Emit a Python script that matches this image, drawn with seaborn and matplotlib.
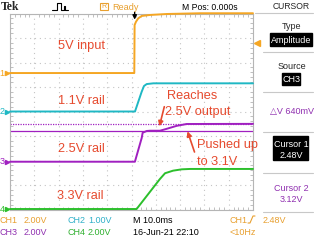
import matplotlib
matplotlib.use("Agg")
import matplotlib.pyplot as plt
import seaborn as sns
from matplotlib.lines import Line2D
from matplotlib.patches import Rectangle
from matplotlib.ticker import MultipleLocator

# scope capture: time in ms, amplitude in volts
t_ch1 = [-50, 1.15, 1.28, 1.85, 2.8, 4.2, 7.6, 14.5, 28.2, 50]
v_ch1 = [0.0, 0.0, 3.92, 4.19, 4.47, 4.66, 4.74, 4.82, 4.88, 4.88]
t_ch2 = [-50, 1.44, 2.8, 4.2, 5.14, 6.26, 8.97, 50]
v_ch2 = [0.0, 0.0, 0.40, 0.81, 1.04, 1.12, 1.15, 1.15]
t_ch3 = [-50, 1.4, 4.2, 4.6, 6.3, 7.6, 11.7, 14.2, 18.6, 22.7, 50]
v_ch3 = [0.0, 0.0, 1.94, 2.37, 2.51, 2.53, 2.53, 2.67, 2.93, 3.08, 3.09]
t_ch4 = [-50, 2.1, 11.7, 13.8, 17.1, 20.7, 24.1, 50]
v_ch4 = [0.0, 0.0, 2.45, 2.92, 3.13, 3.24, 3.27, 3.27]

volts_per_div = [2.0, 1.0, 2.0, 2.0]
ground_div = [1.57, 0.0, -2.05, -3.98]
trace_colors = ["#f5a623", "#1fb8c4", "#a020c0", "#2cbf2c"]
label_colors = ["#e8a030", "#30b0c8", "#9030b0", "#30b030"]
cursor_volts = [2.48, 3.12]
trigger_volts = 2.48

RED = "#e64a2e"
W, H = 320, 240


def fx(x):
    return x / W


def fy(y):
    return 1 - y / H


sns.set_style("white")
plt.rcParams["font.family"] = ["Liberation Sans", "DejaVu Sans"]

fig = plt.figure(figsize=(3.2, 2.4), dpi=100)
ax = fig.add_axes([fx(10), fy(209.5), 243 / W, 196 / H])
ax.set_xlim(-50, 50)
ax.set_ylim(-4, 4)
ax.set_xticks(range(-50, 51, 10))
ax.set_yticks(range(-4, 5))
ax.set_xticklabels([])
ax.set_yticklabels([])
ax.xaxis.set_minor_locator(MultipleLocator(2))
ax.yaxis.set_minor_locator(MultipleLocator(0.2))
ax.tick_params(which="major", length=0)
ax.tick_params(which="minor", direction="in", length=2, color="#b5b5b5",
               top=True, bottom=True, left=True, right=True)
ax.grid(True, which="major", color="#c4c4c4", lw=0.8, ls=(0, (1, 3.4)))
for s in ax.spines.values():
    s.set_color("#b5b5b5")
    s.set_linewidth(0.8)

# cursors on CH3
for cv, ls in zip(cursor_volts, ["-", (0, (1, 1))]):
    ax.axhline(ground_div[2] + cv / volts_per_div[2], color=trace_colors[2], lw=0.9, ls=ls, zorder=2)

# traces
traces = [(t_ch1, v_ch1), (t_ch2, v_ch2), (t_ch3, v_ch3), (t_ch4, v_ch4)]
for (t, v), vdiv, g, c in zip(traces, volts_per_div, ground_div, trace_colors):
    y = [g + val / vdiv for val in v]
    sns.lineplot(x=t, y=y, color=c, lw=1.4, estimator=None, sort=False,
                 ax=ax, clip_on=False, zorder=3)

# channel ground markers
trans = ax.get_yaxis_transform()
for i, (g, c) in enumerate(zip(ground_div, trace_colors)):
    ax.text(-0.022, g, str(i + 1), color=c, fontsize=6.5, ha="right", va="center", transform=trans)
    ax.plot([-0.011], [g], marker=">", ms=3, color=c, transform=trans, clip_on=False)

# trigger level and position
ax.plot([1.018], [ground_div[0] + trigger_volts / volts_per_div[0]], marker="<", ms=4,
        color=trace_colors[0], transform=trans, clip_on=False)
ax.annotate("", xy=(1.3, 3.75), xytext=(1.3, 4.05),
            arrowprops=dict(arrowstyle="-|>", color="k", lw=1, mutation_scale=6,
                            shrinkA=0, shrinkB=0), annotation_clip=False)

# annotations
for txt, x, y in [("5V input", 58, 49.3), ("1.1V rail", 58.3, 104.3), ("2.5V rail", 58.3, 151.7),
                  ("3.3V rail", 57.3, 198.7), ("Reaches", 166.7, 99), ("2.5V output", 165, 115),
                  ("Pushed up", 196.7, 148.3), ("to 3.1V", 196.7, 165)]:
    fig.text(fx(x), fy(y), txt, color=RED, fontsize=9.2, va="baseline")
for tail, head in [((164.3, 106.7), (159.4, 126.3)), ((194.5, 152), (187.5, 131.3))]:
    ax.annotate("", xy=(fx(head[0]), fy(head[1])), xytext=(fx(tail[0]), fy(tail[1])),
                xycoords="figure fraction", textcoords="figure fraction",
                arrowprops=dict(arrowstyle="-|>", color=RED, lw=1.2, mutation_scale=7,
                                shrinkA=0, shrinkB=0))

# header
fig.text(fx(1), fy(10.5), "Tek", family=["Liberation Serif", "DejaVu Serif"], weight="bold",
         fontsize=8.5, va="baseline")
fig.add_artist(Line2D([fx(p) for p in [52, 57, 57, 61, 61, 64, 64, 65, 65, 68]],
                      [fy(p) for p in [10, 10, 3, 3, 10, 10, 6, 6, 10, 10]],
                      color="k", lw=0.8))
fig.add_artist(Rectangle((fx(100), fy(10)), 8 / W, 7.5 / H, fill=False, ec=label_colors[0], lw=0.8))
fig.text(fx(104), fy(6.3), "R", color=label_colors[0], fontsize=5, ha="center", va="center")
fig.text(fx(112), fy(10), "Ready", color=label_colors[0], fontsize=6.6, va="baseline")
fig.text(fx(210), fy(9.5), "M Pos: 0.000s", color="k", fontsize=6.2, ha="center", va="baseline")

# right-hand menu
cx = fx(291.5)
fig.text(cx, fy(9.3), "CURSOR", fontsize=6.2, ha="center", va="baseline")
for y in [12.5, 52.3, 91.5, 131.7, 173.3, 211.7]:
    x0 = 255 if y == 12.5 else 263
    fig.add_artist(Line2D([fx(x0), fx(313)], [fy(y), fy(y)], color="#c8c8c8", lw=0.8))
fig.text(cx, fy(29.3), "Type", fontsize=6.5, ha="center", va="baseline")
fig.add_artist(Rectangle((fx(270), fy(45.5)), 42 / W, 12.5 / H, color="k"))
fig.text(cx, fy(42.8), "Amplitude", color="w", fontsize=6.5, ha="center", va="baseline")
fig.text(cx, fy(69.3), "Source", fontsize=6.5, ha="center", va="baseline")
fig.add_artist(Rectangle((fx(281.7), fy(85)), 18.5 / W, 11.7 / H, color="k"))
fig.text(cx, fy(82.5), "CH3", color="w", fontsize=6.5, ha="center", va="baseline")
fig.text(cx, fy(114.3), "\u25b3V 640mV", color=label_colors[2], fontsize=6.5, ha="center",
         va="baseline", family=["Liberation Sans", "DejaVu Sans"])
fig.add_artist(Rectangle((fx(272.7), fy(160)), 35.6 / W, 24 / H, color="k"))
fig.text(cx, fy(147.3), "Cursor 1", color="w", fontsize=6.5, ha="center", va="baseline")
fig.text(cx, fy(158.3), "2.48V", color="w", fontsize=6.5, ha="center", va="baseline")
fig.text(cx, fy(190.7), "Cursor 2", color=label_colors[2], fontsize=6.5, ha="center", va="baseline")
fig.text(cx, fy(201.7), "3.12V", color=label_colors[2], fontsize=6.5, ha="center", va="baseline")

# footer
row1, row2 = fy(222.7), fy(235)
for txt, x, y, c in [("CH1", 0, row1, label_colors[0]), ("2.00V", 24, row1, label_colors[0]),
                     ("CH2", 67, row1, label_colors[1]), ("1.00V", 88, row1, label_colors[1]),
                     ("M 10.0ms", 133, row1, "k"), ("CH1", 230, row1, label_colors[0]),
                     ("2.48V", 263, row1, label_colors[0]),
                     ("CH3", 0, row2, label_colors[2]), ("2.00V", 24, row2, label_colors[2]),
                     ("CH4", 67, row2, label_colors[3]), ("2.00V", 88, row2, label_colors[3]),
                     ("16-Jun-21 22:10", 133, row2, "k"), ("<10Hz", 230, row2, label_colors[0])]:
    fig.text(fx(x), y, txt, color=c, fontsize=6.5, va="baseline")
fig.add_artist(Line2D([fx(p) for p in [248, 250, 253, 255]], [fy(p) for p in [223, 223, 216, 216]],
                      color=label_colors[0], lw=0.8))

fig.savefig("out.png", dpi=100, facecolor="white")
